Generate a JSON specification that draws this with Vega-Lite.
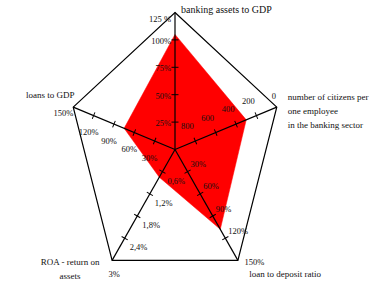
{
  "$schema": "https://vega.github.io/schema/vega-lite/v6.json",
  "width": 373,
  "height": 286,
  "autosize": "none",
  "padding": 0,
  "background": "white",
  "config": {"font": "Liberation Serif", "view": {"stroke": null}, "mark": {"font": "Liberation Serif"}, "text": {"font": "Liberation Serif", "color": "#111"}},
  "datasets": {
    "axes": [
      {"k": 0, "title": "banking assets to GDP", "value": 105, "inner": 0, "outer": 125},
      {"k": 1, "title": ["number of citizens per", "one employee", "in the banking sector"], "value": 300, "inner": 1000, "outer": 0},
      {"k": 2, "title": "loan to deposit ratio", "value": 108, "inner": 0, "outer": 150},
      {"k": 3, "title": ["ROA - return on", "assets"], "value": 0.75, "inner": 0, "outer": 3},
      {"k": 4, "title": "loans to GDP", "value": 75, "inner": 0, "outer": 150}
    ],
    "ticks": [
      {"k": 0, "value": 25, "label": "25%"},
      {"k": 0, "value": 50, "label": "50%"},
      {"k": 0, "value": 75, "label": "75%"},
      {"k": 0, "value": 100, "label": "100%"},
      {"k": 0, "value": 125, "label": "125 %"},
      {"k": 1, "value": 800, "label": "800"},
      {"k": 1, "value": 600, "label": "600"},
      {"k": 1, "value": 400, "label": "400"},
      {"k": 1, "value": 200, "label": "200"},
      {"k": 1, "value": 0, "label": "0"},
      {"k": 2, "value": 30, "label": "30%"},
      {"k": 2, "value": 60, "label": "60%"},
      {"k": 2, "value": 90, "label": "90%"},
      {"k": 2, "value": 120, "label": "120%"},
      {"k": 2, "value": 150, "label": "150%"},
      {"k": 3, "value": 0.6, "label": "0,6%"},
      {"k": 3, "value": 1.2, "label": "1,2%"},
      {"k": 3, "value": 1.8, "label": "1,8%"},
      {"k": 3, "value": 2.4, "label": "2,4%"},
      {"k": 3, "value": 3, "label": "3%"},
      {"k": 4, "value": 30, "label": "30%"},
      {"k": 4, "value": 60, "label": "60%"},
      {"k": 4, "value": 90, "label": "90%"},
      {"k": 4, "value": 120, "label": "120%"},
      {"k": 4, "value": 150, "label": "150%"}
    ]
  },
  "encoding": {
    "x": {"field": "X", "type": "quantitative", "scale": {"domain": [-1.63551, 1.85047], "nice": false, "zero": false}, "axis": null},
    "y": {"field": "Y", "type": "quantitative", "scale": {"domain": [-0.99635, 1.09124], "nice": false, "zero": false}, "axis": null}
  },
  "layer": [
    {
      "data": {"name": "axes"},
      "transform": [
        {"calculate": "(datum.value-datum.inner)/(datum.outer-datum.inner)", "as": "f"},
        {"calculate": "datum.k*2*PI/5", "as": "a"},
        {"calculate": "datum.f*sin(datum.a)", "as": "X"},
        {"calculate": "datum.f*cos(datum.a)", "as": "Y"}
      ],
      "mark": {"type": "line", "interpolate": "linear-closed", "fill": "#ff0000", "stroke": "#ff0000", "strokeWidth": 0.5},
      "encoding": {"order": {"field": "k", "type": "quantitative"}}
    },
    {
      "data": {"name": "axes"},
      "transform": [
        {"calculate": "datum.k*2*PI/5", "as": "a"},
        {"calculate": "sin(datum.a)", "as": "X"},
        {"calculate": "cos(datum.a)", "as": "Y"}
      ],
      "mark": {"type": "line", "interpolate": "linear-closed", "stroke": "black", "strokeWidth": 1.2},
      "encoding": {"order": {"field": "k", "type": "quantitative"}}
    },
    {
      "data": {"name": "axes"},
      "transform": [
        {"calculate": "datum.k*2*PI/5", "as": "a"},
        {"calculate": "0", "as": "X"},
        {"calculate": "0", "as": "Y"},
        {"calculate": "sin(datum.a)", "as": "X2"},
        {"calculate": "cos(datum.a)", "as": "Y2"}
      ],
      "mark": {"type": "rule", "stroke": "black", "strokeWidth": 1.2},
      "encoding": {"x2": {"field": "X2"}, "y2": {"field": "Y2"}}
    },
    {
      "data": {"name": "ticks"},
      "transform": [
        {"lookup": "k", "from": {"data": {"name": "axes"}, "key": "k", "fields": ["inner", "outer"]}},
        {"calculate": "(datum.value-datum.inner)/(datum.outer-datum.inner)", "as": "f"},
        {"filter": "datum.f < 0.99"},
        {"calculate": "datum.k*2*PI/5", "as": "a"},
        {"calculate": "datum.f*sin(datum.a)", "as": "X"},
        {"calculate": "datum.f*cos(datum.a)", "as": "Y"},
        {"calculate": "atan2(-cos(datum.a)*137, sin(datum.a)*107)*180/PI + 90", "as": "ang"}
      ],
      "mark": {"type": "point", "shape": "stroke", "size": 49, "stroke": "black", "strokeWidth": 1, "filled": false, "opacity": 1},
      "encoding": {"angle": {"field": "ang", "type": "quantitative", "scale": null}}
    },
    {
      "data": {"name": "ticks"},
      "transform": [
        {"lookup": "k", "from": {"data": {"name": "axes"}, "key": "k", "fields": ["inner", "outer"]}},
        {"calculate": "(datum.value-datum.inner)/(datum.outer-datum.inner)", "as": "f"},
        {"filter": "datum.k == 0 && datum.f < 0.99"},
        {"calculate": "datum.k*2*PI/5", "as": "a"},
        {"calculate": "datum.f*sin(datum.a)", "as": "X"},
        {"calculate": "datum.f*cos(datum.a)", "as": "Y"}
      ],
      "mark": {"type": "text", "font": "Liberation Serif", "align": "right", "baseline": "middle", "dx": -4, "dy": 1, "fontSize": 8.5},
      "encoding": {"text": {"field": "label"}}
    },
    {
      "data": {"name": "ticks"},
      "transform": [
        {"lookup": "k", "from": {"data": {"name": "axes"}, "key": "k", "fields": ["inner", "outer"]}},
        {"calculate": "(datum.value-datum.inner)/(datum.outer-datum.inner)", "as": "f"},
        {"filter": "datum.k == 0 && datum.f >= 0.99"},
        {"calculate": "datum.k*2*PI/5", "as": "a"},
        {"calculate": "datum.f*sin(datum.a)", "as": "X"},
        {"calculate": "datum.f*cos(datum.a)", "as": "Y"}
      ],
      "mark": {"type": "text", "font": "Liberation Serif", "align": "right", "baseline": "middle", "dx": -4, "dy": 6.5, "fontSize": 8.5},
      "encoding": {"text": {"field": "label"}}
    },
    {
      "data": {"name": "ticks"},
      "transform": [
        {"lookup": "k", "from": {"data": {"name": "axes"}, "key": "k", "fields": ["inner", "outer"]}},
        {"calculate": "(datum.value-datum.inner)/(datum.outer-datum.inner)", "as": "f"},
        {"filter": "datum.k == 1 && datum.f < 0.99"},
        {"calculate": "datum.k*2*PI/5", "as": "a"},
        {"calculate": "datum.f*sin(datum.a)", "as": "X"},
        {"calculate": "datum.f*cos(datum.a)", "as": "Y"}
      ],
      "mark": {"type": "text", "font": "Liberation Serif", "align": "center", "baseline": "middle", "dx": -8, "dy": -15, "fontSize": 8.5},
      "encoding": {"text": {"field": "label"}}
    },
    {
      "data": {"name": "ticks"},
      "transform": [
        {"lookup": "k", "from": {"data": {"name": "axes"}, "key": "k", "fields": ["inner", "outer"]}},
        {"calculate": "(datum.value-datum.inner)/(datum.outer-datum.inner)", "as": "f"},
        {"filter": "datum.k == 1 && datum.f >= 0.99"},
        {"calculate": "datum.k*2*PI/5", "as": "a"},
        {"calculate": "datum.f*sin(datum.a)", "as": "X"},
        {"calculate": "datum.f*cos(datum.a)", "as": "Y"}
      ],
      "mark": {"type": "text", "font": "Liberation Serif", "align": "center", "baseline": "middle", "dx": -3, "dy": -11, "fontSize": 8.5},
      "encoding": {"text": {"field": "label"}}
    },
    {
      "data": {"name": "ticks"},
      "transform": [
        {"lookup": "k", "from": {"data": {"name": "axes"}, "key": "k", "fields": ["inner", "outer"]}},
        {"calculate": "(datum.value-datum.inner)/(datum.outer-datum.inner)", "as": "f"},
        {"filter": "datum.k == 2 && datum.f < 0.99"},
        {"calculate": "datum.k*2*PI/5", "as": "a"},
        {"calculate": "datum.f*sin(datum.a)", "as": "X"},
        {"calculate": "datum.f*cos(datum.a)", "as": "Y"}
      ],
      "mark": {"type": "text", "font": "Liberation Serif", "align": "left", "baseline": "middle", "dx": 3, "dy": -7.5, "fontSize": 8.5},
      "encoding": {"text": {"field": "label"}}
    },
    {
      "data": {"name": "ticks"},
      "transform": [
        {"lookup": "k", "from": {"data": {"name": "axes"}, "key": "k", "fields": ["inner", "outer"]}},
        {"calculate": "(datum.value-datum.inner)/(datum.outer-datum.inner)", "as": "f"},
        {"filter": "datum.k == 2 && datum.f >= 0.99"},
        {"calculate": "datum.k*2*PI/5", "as": "a"},
        {"calculate": "datum.f*sin(datum.a)", "as": "X"},
        {"calculate": "datum.f*cos(datum.a)", "as": "Y"}
      ],
      "mark": {"type": "text", "font": "Liberation Serif", "align": "left", "baseline": "middle", "dx": 6.5, "dy": 2, "fontSize": 8.5},
      "encoding": {"text": {"field": "label"}}
    },
    {
      "data": {"name": "ticks"},
      "transform": [
        {"lookup": "k", "from": {"data": {"name": "axes"}, "key": "k", "fields": ["inner", "outer"]}},
        {"calculate": "(datum.value-datum.inner)/(datum.outer-datum.inner)", "as": "f"},
        {"filter": "datum.k == 3 && datum.f < 0.99"},
        {"calculate": "datum.k*2*PI/5", "as": "a"},
        {"calculate": "datum.f*sin(datum.a)", "as": "X"},
        {"calculate": "datum.f*cos(datum.a)", "as": "Y"}
      ],
      "mark": {"type": "text", "font": "Liberation Serif", "align": "left", "baseline": "middle", "dx": 5, "dy": 9, "fontSize": 8.5},
      "encoding": {"text": {"field": "label"}}
    },
    {
      "data": {"name": "ticks"},
      "transform": [
        {"lookup": "k", "from": {"data": {"name": "axes"}, "key": "k", "fields": ["inner", "outer"]}},
        {"calculate": "(datum.value-datum.inner)/(datum.outer-datum.inner)", "as": "f"},
        {"filter": "datum.k == 3 && datum.f >= 0.99"},
        {"calculate": "datum.k*2*PI/5", "as": "a"},
        {"calculate": "datum.f*sin(datum.a)", "as": "X"},
        {"calculate": "datum.f*cos(datum.a)", "as": "Y"}
      ],
      "mark": {"type": "text", "font": "Liberation Serif", "align": "center", "baseline": "middle", "dx": 2, "dy": 14, "fontSize": 8.5},
      "encoding": {"text": {"field": "label"}}
    },
    {
      "data": {"name": "ticks"},
      "transform": [
        {"lookup": "k", "from": {"data": {"name": "axes"}, "key": "k", "fields": ["inner", "outer"]}},
        {"calculate": "(datum.value-datum.inner)/(datum.outer-datum.inner)", "as": "f"},
        {"filter": "datum.k == 4 && datum.f < 0.99"},
        {"calculate": "datum.k*2*PI/5", "as": "a"},
        {"calculate": "datum.f*sin(datum.a)", "as": "X"},
        {"calculate": "datum.f*cos(datum.a)", "as": "Y"}
      ],
      "mark": {"type": "text", "font": "Liberation Serif", "align": "center", "baseline": "middle", "dx": -5, "dy": 16.5, "fontSize": 8.5},
      "encoding": {"text": {"field": "label"}}
    },
    {
      "data": {"name": "ticks"},
      "transform": [
        {"lookup": "k", "from": {"data": {"name": "axes"}, "key": "k", "fields": ["inner", "outer"]}},
        {"calculate": "(datum.value-datum.inner)/(datum.outer-datum.inner)", "as": "f"},
        {"filter": "datum.k == 4 && datum.f >= 0.99"},
        {"calculate": "datum.k*2*PI/5", "as": "a"},
        {"calculate": "datum.f*sin(datum.a)", "as": "X"},
        {"calculate": "datum.f*cos(datum.a)", "as": "Y"}
      ],
      "mark": {"type": "text", "font": "Liberation Serif", "align": "right", "baseline": "middle", "dx": 0, "dy": 6, "fontSize": 8.5},
      "encoding": {"text": {"field": "label"}}
    },
    {
      "data": {"name": "axes"},
      "transform": [
        {"filter": "datum.k == 0"},
        {"calculate": "datum.k*2*PI/5", "as": "a"},
        {"calculate": "sin(datum.a)", "as": "X"},
        {"calculate": "cos(datum.a)", "as": "Y"}
      ],
      "mark": {"type": "text", "font": "Liberation Serif", "align": "left", "baseline": "middle", "dx": 6, "dy": -2.5, "fontSize": 10},
      "encoding": {"text": {"field": "title"}}
    },
    {
      "data": {"name": "axes"},
      "transform": [
        {"filter": "datum.k == 1"},
        {"calculate": "datum.k*2*PI/5", "as": "a"},
        {"calculate": "sin(datum.a)", "as": "X"},
        {"calculate": "cos(datum.a)", "as": "Y"}
      ],
      "mark": {"type": "text", "font": "Liberation Serif", "align": "left", "baseline": "top", "dx": 11, "dy": -14.5, "fontSize": 9, "lineHeight": 14.2},
      "encoding": {"text": {"field": "title"}}
    },
    {
      "data": {"name": "axes"},
      "transform": [
        {"filter": "datum.k == 2"},
        {"calculate": "datum.k*2*PI/5", "as": "a"},
        {"calculate": "sin(datum.a)", "as": "X"},
        {"calculate": "cos(datum.a)", "as": "Y"}
      ],
      "mark": {"type": "text", "font": "Liberation Serif", "align": "left", "baseline": "middle", "dx": 11.4, "dy": 13.2, "fontSize": 9},
      "encoding": {"text": {"field": "title"}}
    },
    {
      "data": {"name": "axes"},
      "transform": [
        {"filter": "datum.k == 3"},
        {"calculate": "datum.k*2*PI/5", "as": "a"},
        {"calculate": "sin(datum.a)", "as": "X"},
        {"calculate": "cos(datum.a)", "as": "Y"}
      ],
      "mark": {"type": "text", "font": "Liberation Serif", "align": "center", "baseline": "top", "dx": -42, "dy": -2.8, "fontSize": 9, "lineHeight": 14.3},
      "encoding": {"text": {"field": "title"}}
    },
    {
      "data": {"name": "axes"},
      "transform": [
        {"filter": "datum.k == 4"},
        {"calculate": "datum.k*2*PI/5", "as": "a"},
        {"calculate": "sin(datum.a)", "as": "X"},
        {"calculate": "cos(datum.a)", "as": "Y"}
      ],
      "mark": {"type": "text", "font": "Liberation Serif", "align": "center", "baseline": "middle", "dx": -23, "dy": -12, "fontSize": 9},
      "encoding": {"text": {"field": "title"}}
    }
  ]
}
